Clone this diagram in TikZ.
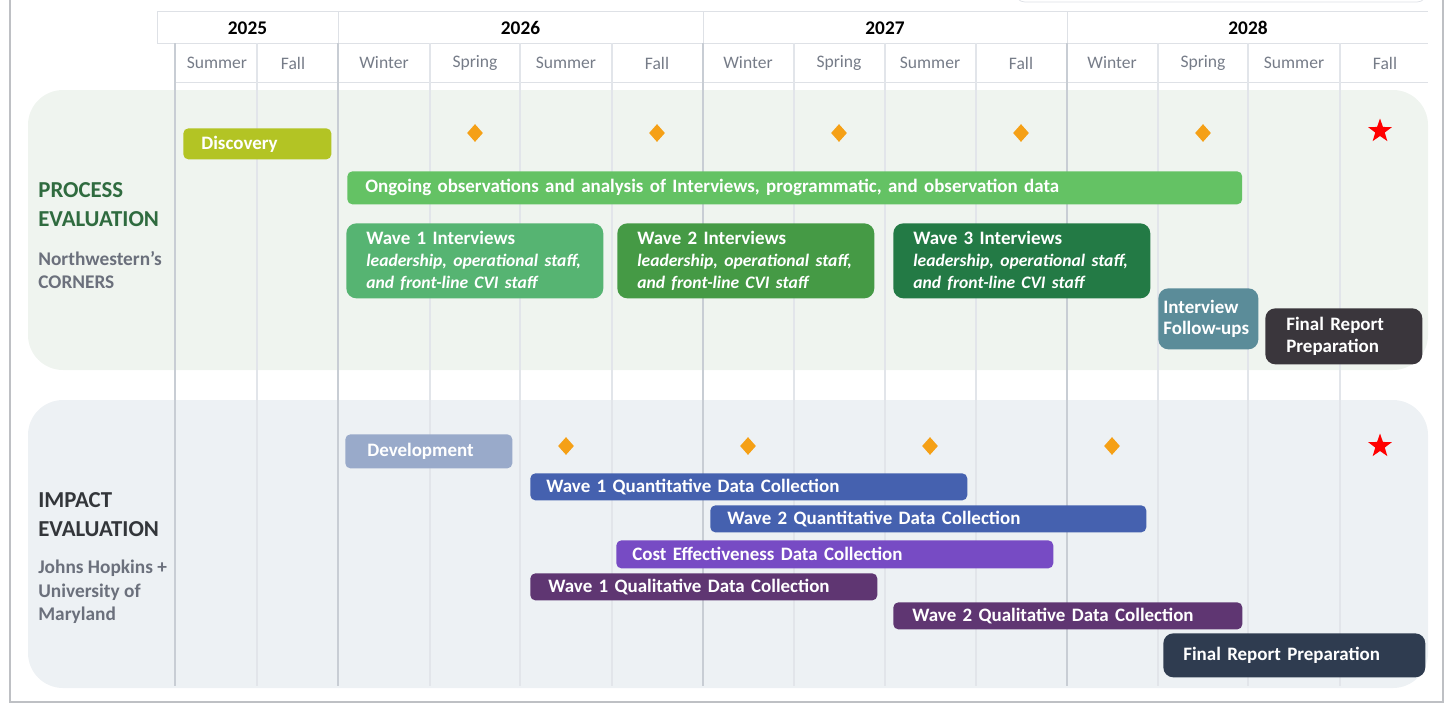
\documentclass[tikz,border=0pt]{standalone}
\usepackage{fontspec}
\setmainfont{Carlito}
\usetikzlibrary{shapes.geometric,positioning}
\definecolor{gridline}{RGB}{226,229,234}
\definecolor{yearline}{RGB}{200,205,212}
\definecolor{cellline}{RGB}{222,225,230}
\definecolor{seasongray}{RGB}{118,124,136}
\definecolor{procbg}{RGB}{239,244,239}
\definecolor{impbg}{RGB}{237,241,244}
\definecolor{procgreen}{RGB}{47,107,63}
\definecolor{labgray}{RGB}{107,112,124}
\definecolor{impdark}{RGB}{51,54,58}
\definecolor{discol}{RGB}{179,196,36}
\definecolor{ongcol}{RGB}{100,194,100}
\definecolor{wvone}{RGB}{86,180,114}
\definecolor{wvtwo}{RGB}{69,154,69}
\definecolor{wvthree}{RGB}{35,122,69}
\definecolor{followcol}{RGB}{91,140,153}
\definecolor{reportdark}{RGB}{58,54,60}
\definecolor{devcol}{RGB}{153,170,202}
\definecolor{quantblue}{RGB}{69,97,175}
\definecolor{costpurple}{RGB}{119,75,196}
\definecolor{qualpurple}{RGB}{95,54,114}
\definecolor{reportnavy}{RGB}{47,60,80}
\definecolor{milestone}{RGB}{245,160,22}
\definecolor{framegray}{RGB}{190,192,196}
\newcommand{\staffline}[1]{{\fontsize{10}{12.5}\selectfont\itshape #1}}

\begin{document}
\begin{tikzpicture}[x=0.02cm, y=-0.02cm,
  season/.style={font=\fontsize{10}{12}\selectfont, text=seasongray},
  year/.style={font=\fontsize{11}{13}\selectfont\bfseries},
  panel/.style={rounded corners=0.7cm},
  bar/.style={anchor=north west, rounded corners=0.1cm, inner xsep=0.36cm,
    inner ysep=0pt, align=left, text=white,
    font=\fontsize{10.8}{12.5}\selectfont\bfseries},
  wavebox/.style={bar, rounded corners=0.2cm, inner xsep=0.4cm,
    text width=4.34cm, minimum height=1.5cm},
  diam/.style={diamond, fill=milestone, inner sep=0pt,
    minimum width=0.32cm, minimum height=0.36cm},
  goal/.style={star, star points=5, star point ratio=2.5, fill=red,
    inner sep=0pt, minimum size=0.5cm},
  head/.style={align=left, anchor=west, inner xsep=0pt,
    font=\fontsize{13}{16.5}\selectfont\bfseries},
  org/.style={align=left, anchor=west, inner xsep=0pt, text=labgray,
    font=\fontsize{11}{13.5}\selectfont\bfseries}
]
  \useasboundingbox (0,0) rectangle (1454,704);

  % window frame and top box
  \draw[framegray, line width=1.5pt] (10,-5) -- (10,702) -- (1443,702) -- (1443,-5);
  \draw[cellline, rounded corners=0.2cm] (1015,-30) rectangle (1427,2);

  % panels
  \path[panel, fill=procbg] (28,90) rectangle (1428,370);
  \path[panel, fill=impbg] (28,400) rectangle (1428,688);

  % header cells
  \draw[cellline] (157,11) -- (1428,11);
  \draw[cellline] (157,43) -- (1428,43);
  \draw[cellline] (175,82) -- (1428,82);
  \foreach \x in {157,338,703,1067}
    \draw[cellline] (\x,11) -- (\x,43);

  % grid
  \foreach \x in {257,430,520,612,794,885,976,1158,1248,1340}
    \draw[gridline, line width=0.6pt] (\x,43) -- (\x,686);
  \foreach \x in {175,338,703,1067}
    \draw[yearline, line width=0.8pt] (\x,43) -- (\x,686);

  % years and seasons
  \node[year] (y2025) at (247.5,28) {2025};
  \node[year] (y2026) at (520.5,28) {2026};
  \node[year] (y2027) at (885,28) {2027};
  \node[year] (y2028) at (1248,28) {2028};
  \foreach \x/\s [count=\i] in {217/Summer,293/Fall,384/Winter,475/Spring,
      566/Summer,657/Fall,748/Winter,839/Spring,930/Summer,1021/Fall,
      1112/Winter,1203/Spring,1294/Summer,1385/Fall}
    \node[season] (s\i) at (\x,63) {\s};

  % side labels
  \node[head, text=procgreen] (proc) at (38,205) {PROCESS\\EVALUATION};
  \node[org] (nw) at (38,270) {Northwestern's\\CORNERS};
  \node[head, text=impdark] (impact) at (38,515) {IMPACT\\EVALUATION};
  \node[org] (jhu) at (38,592) {Johns Hopkins +\\University of\\Maryland};

  % process evaluation
  \node[bar, fill=discol, text width=2.24cm, minimum height=0.62cm] (discovery) at (183,128) {Discovery};
  \node[bar, fill=ongcol, text width=17.18cm, minimum height=0.66cm] (ongoing) at (347,171)
    {Ongoing observations and analysis of Interviews, programmatic, and observation data};
  \node[wavebox, fill=wvone] (wave1) at (346,223)
    {Wave 1 Interviews\\\staffline{leadership, operational staff,}\\\staffline{and front-line CVI staff}};
  \node[wavebox, fill=wvtwo] (wave2) at (617,223)
    {Wave 2 Interviews\\\staffline{leadership, operational staff,}\\\staffline{and front-line CVI staff}};
  \node[wavebox, fill=wvthree] (wave3) at (893,223)
    {Wave 3 Interviews\\\staffline{leadership, operational staff,}\\\staffline{and front-line CVI staff}};
  \node[bar, fill=followcol, text width=1.8cm, inner xsep=0.1cm, rounded corners=0.2cm,
    minimum height=1.22cm] (followup) at (1158,288) {Interview\\Follow-ups};
  \node[bar, fill=reportdark, text width=2.3cm, inner xsep=0.42cm, rounded corners=0.2cm,
    minimum height=1.12cm] (procreport) at (1265,308) {Final Report\\Preparation};

  % impact evaluation
  \node[bar, fill=devcol, text width=2.46cm, inner xsep=0.44cm, minimum height=0.68cm] (develop) at (345,434) {Development};
  \node[bar, fill=quantblue, text width=8.1cm, inner xsep=0.32cm, minimum height=0.54cm] (quant1) at (530,473)
    {Wave 1 Quantitative Data Collection};
  \node[bar, fill=quantblue, text width=8.04cm, inner xsep=0.34cm, minimum height=0.54cm] (quant2) at (710,505)
    {Wave 2 Quantitative Data Collection};
  \node[bar, fill=costpurple, text width=8.1cm, inner xsep=0.32cm, minimum height=0.56cm] (cost) at (616,540)
    {Cost Effectiveness Data Collection};
  \node[bar, fill=qualpurple, text width=6.22cm, inner xsep=0.36cm, minimum height=0.54cm] (qual1) at (530,573)
    {Wave 1 Qualitative Data Collection};
  \node[bar, fill=qualpurple, text width=6.22cm, inner xsep=0.38cm, minimum height=0.54cm] (qual2) at (893,602)
    {Wave 2 Qualitative Data Collection};
  \node[bar, fill=reportnavy, text width=4.44cm, inner xsep=0.4cm, rounded corners=0.2cm,
    minimum height=0.88cm] (impreport) at (1163,633) {Final Report Preparation};

  % milestones
  \foreach \x [count=\i] in {475,657,839,1021,1203}
    \node[diam] (pm\i) at (\x,133) {};
  \node[goal] (pgoal) at (1380,131) {};
  \foreach \x [count=\i] in {566,748,930,1112}
    \node[diam] (im\i) at (\x,446) {};
  \node[goal] (igoal) at (1380,446) {};
\end{tikzpicture}
\end{document}
